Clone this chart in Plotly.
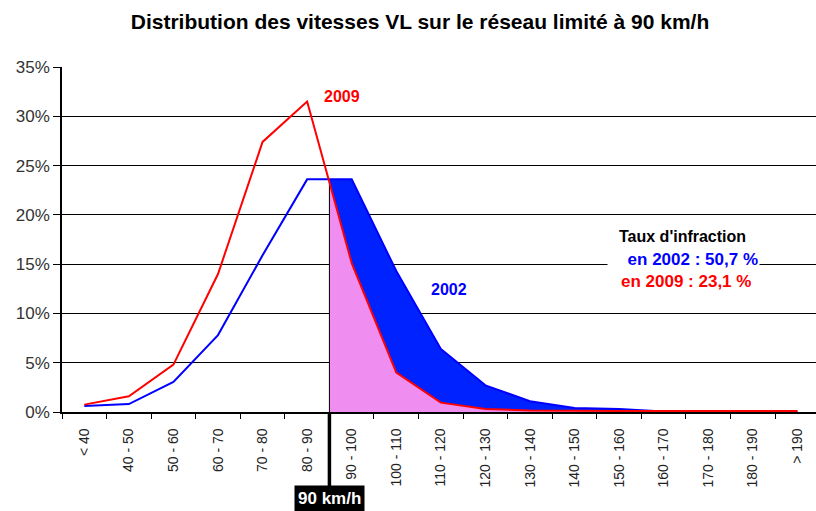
import plotly.graph_objects as go

categories = ["< 40", "40 - 50", "50 - 60", "60 - 70", "70 - 80", "80 - 90",
              "90 - 100", "100 - 110", "110 - 120", "120 - 130", "130 - 140",
              "140 - 150", "150 - 160", "160 - 170", "170 - 180", "180 - 190", "> 190"]
v2002 = [0.6, 0.8, 3.05, 7.8, 15.9, 23.6, 23.6, 14.3, 6.4, 2.7, 1.1, 0.4, 0.3,
         0.05, 0.05, 0.05, 0.05]
v2009 = [0.75, 1.6, 4.8, 14.0, 27.4, 31.5, 15.1, 4.0, 0.95, 0.3, 0.15, 0.1, 0.1,
         0.1, 0.1, 0.1, 0.1]
yticks = [0, 5, 10, 15, 20, 25, 30, 35]
limit_index = 5.5  # boundary between "80 - 90" and "90 - 100"

FONT = "Liberation Sans, Arial, sans-serif"
RED = "#FF0000"
BLUE = "#0000FF"
BLUE_FILL = "#0022FF"
PINK = "#F08DF0"

xs = list(range(len(categories)))
i0 = int(limit_index)
i1 = i0 + 1
b_lim = (v2002[i0] + v2002[i1]) / 2
r_lim = (v2009[i0] + v2009[i1]) / 2

fig = go.Figure()
# blue area (2002 excess)
fig.add_trace(go.Scatter(
    x=[limit_index] + xs[i1:] + [xs[-1], limit_index],
    y=[b_lim] + v2002[i1:] + [0, 0],
    fill="toself", fillcolor=BLUE_FILL, mode="none", hoverinfo="skip"))
# pink area (2009 excess)
fig.add_trace(go.Scatter(
    x=[limit_index] + xs[i1:] + [xs[-1], limit_index],
    y=[r_lim] + v2009[i1:] + [0, 0],
    fill="toself", fillcolor=PINK, mode="none", hoverinfo="skip"))
# vertical limit line inside plot
fig.add_trace(go.Scatter(x=[limit_index, limit_index], y=[0, max(b_lim, r_lim)],
                         mode="lines", line=dict(color="black", width=1), hoverinfo="skip"))
fig.add_trace(go.Scatter(x=xs, y=v2002, mode="lines", line=dict(color=BLUE, width=2)))
fig.add_trace(go.Scatter(x=xs, y=v2009, mode="lines", line=dict(color=RED, width=2)))

px_per_unit = 44.57
plot_w = 816 - 62
x_end = -0.5 + plot_w / px_per_unit

fig.update_layout(
    width=816, height=511,
    margin=dict(l=62, r=0, t=67, b=99),
    paper_bgcolor="white", plot_bgcolor="white",
    showlegend=False,
    font=dict(family=FONT, color="#222"),
    title=dict(text="<b>Distribution des vitesses VL sur le réseau limité à 90 km/h</b>",
               x=420 / 816, xanchor="center", y=1 - 22 / 511, yanchor="middle",
               xref="container", yref="container",
               font=dict(family=FONT, size=21, color="black")),
    xaxis=dict(range=[-0.5, x_end], tickmode="array", tickvals=xs, ticktext=categories,
               tickangle=-90, tickfont=dict(size=14, color="#222"), automargin=False,
               ticks="outside", ticklen=9, tickcolor="rgba(0,0,0,0)",
               showgrid=False, zeroline=False, showline=True, linecolor="black", linewidth=1.5,
               minor=dict(tickmode="linear", tick0=-0.5, dtick=1, ticks="outside",
                          ticklen=5, tickcolor="black", tickwidth=1, showgrid=False)),
    yaxis=dict(range=[0, 35], tickmode="array", tickvals=yticks,
               ticktext=[f"{t}%" for t in yticks], automargin=False,
               tickfont=dict(size=17, color="#333"),
               ticks="outside", ticklen=7, tickcolor="black",
               showgrid=True, gridcolor="black", gridwidth=1,
               zeroline=False, showline=True, linecolor="black", linewidth=1.5),
)

# thick limit marker below the axis
fig.add_shape(type="line", xref="x", yref="paper", x0=limit_index, x1=limit_index,
              y0=0, y1=-(488 - 412) / 345, line=dict(color="black", width=3.5))
fig.add_annotation(x=limit_index, xref="x", yref="paper", y=-(499 - 412) / 345,
                   yanchor="middle", xanchor="center", showarrow=False,
                   text="<b>90 km/h</b>", bgcolor="black", borderpad=3,
                   font=dict(family=FONT, size=17, color="white"))

fig.add_annotation(x=5.33, y=32.0, xanchor="left", yanchor="middle", showarrow=False,
                   text="<b>2009</b>", font=dict(family=FONT, size=16, color=RED))
fig.add_annotation(x=8.18, y=12.4, xanchor="center", yanchor="middle", showarrow=False,
                   text="<b>2002</b>", font=dict(family=FONT, size=16, color=BLUE))
fig.add_annotation(x=11.95, y=17.8, xanchor="left", yanchor="middle", showarrow=False,
                   text="<b>Taux d'infraction</b>", bgcolor="white",
                   font=dict(family=FONT, size=16, color="black"))
fig.add_annotation(x=11.72, y=15.5, xanchor="left", yanchor="middle", showarrow=False,
                   text="<b>en 2002 : 50,7 %</b>", bgcolor="white", width=149, align="right",
                   font=dict(family=FONT, size=17, color=BLUE))
fig.add_annotation(x=12.0, y=13.2, xanchor="left", yanchor="middle", showarrow=False,
                   text="<b>en 2009 : 23,1 %</b>", bgcolor="white",
                   font=dict(family=FONT, size=17, color=RED))

fig.write_html("out.html", config={"displayModeBar": False},
               post_script="document.body.style.margin='0';")
